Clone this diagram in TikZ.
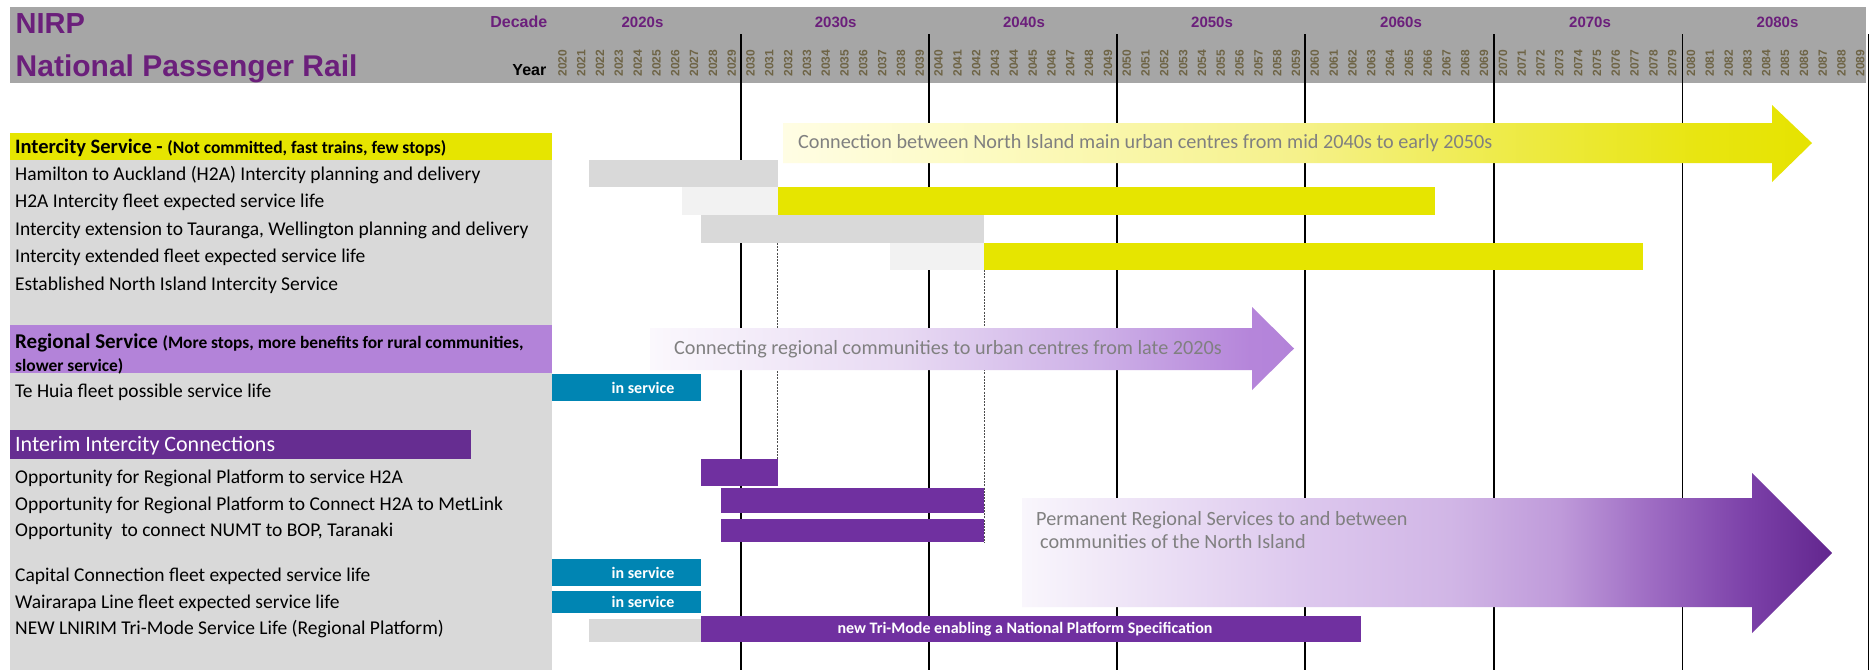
\documentclass[tikz,border=0pt]{standalone}
\usepackage{fontspec}
\setmainfont{Carlito}
\newfontfamily\arialfont{Liberation Sans}
\definecolor{hdrgray}{HTML}{A6A6A6}
\definecolor{panelgray}{HTML}{D9D9D9}
\definecolor{lightbar}{HTML}{F2F2F2}
\definecolor{intyellow}{RGB}{230,229,0}
\definecolor{regpurple}{HTML}{B383D9}
\definecolor{intpurple}{HTML}{662D91}
\definecolor{barpurple}{HTML}{7030A0}
\definecolor{svcblue}{HTML}{0085B3}
\definecolor{titlepurple}{HTML}{6B1F7B}
\definecolor{arrowgray}{HTML}{808080}
\definecolor{yeartext}{HTML}{6E6446}
% yellow arrow stops
\definecolor{yA}{HTML}{FFFDE4}
\definecolor{yB}{HTML}{FCFABF}
\definecolor{yC}{HTML}{F5F18A}
\definecolor{yD}{HTML}{EEEB4A}
\definecolor{yE}{HTML}{E8E510}
\definecolor{yF}{RGB}{230,227,0}
% regional arrow stops
\definecolor{rA}{HTML}{FBF8FD}
\definecolor{rB}{HTML}{E8DAF3}
\definecolor{rC}{HTML}{CDB0E7}
\definecolor{rD}{HTML}{B585DA}
\definecolor{rE}{HTML}{B383D9}
% permanent arrow stops
\definecolor{pA}{HTML}{F9F6FC}
\definecolor{pB}{HTML}{DDC8EE}
\definecolor{pC}{HTML}{D1B6E6}
\definecolor{pD}{HTML}{BF9ADA}
\definecolor{pE}{HTML}{9E6CC3}
\definecolor{pF}{HTML}{7B40A8}
\definecolor{pG}{HTML}{62268E}
\pgfdeclarehorizontalshading{yellowarrow}{100bp}{color(0bp)=(yA); color(25bp)=(yA); color(35.5bp)=(yB); color(50.1bp)=(yC); color(59.8bp)=(yD); color(69.6bp)=(yE); color(75bp)=(yF); color(100bp)=(yF)}
\pgfdeclarehorizontalshading{regionalarrow}{100bp}{color(0bp)=(rA); color(25bp)=(rA); color(44.4bp)=(rB); color(59.9bp)=(rC); color(71.6bp)=(rD); color(75bp)=(rE); color(100bp)=(rE)}
\pgfdeclarehorizontalshading{permarrow}{100bp}{color(0bp)=(pA); color(25bp)=(pA); color(42.2bp)=(pB); color(51.4bp)=(pC); color(58.2bp)=(pD); color(63.8bp)=(pE); color(69.9bp)=(pF); color(75bp)=(pG); color(100bp)=(pG)}
\begin{document}
\begin{tikzpicture}[x=1pt,y=-1pt,
  rowtext/.style={anchor=base west, inner sep=0pt, font=\fontsize{19.5}{21}\selectfont},
  bartext/.style={anchor=center, inner sep=0pt, text=white, font=\bfseries\fontsize{16}{18}\selectfont},
  arrowtext/.style={anchor=base west, inner sep=0pt, text=arrowgray, font=\fontsize{20.2}{22}\selectfont},
  decadeline/.style={line width=1.8pt, black},
  dashline/.style={line width=0.7pt, black!70, dash pattern=on 2pt off 1.2pt},
  decadelbl/.style={anchor=base, inner sep=0pt, text=titlepurple, font=\arialfont\bfseries\fontsize{15}{17}\selectfont},
  yearlbl/.style={anchor=center, inner sep=0pt, rotate=90, text=yeartext, font=\arialfont\bfseries\fontsize{12}{13}\selectfont}
]
\useasboundingbox (0,0) rectangle (1870,670);
\fill[white] (0,0) rectangle (1870,670);

% header band
\fill[hdrgray] (9.5,7.3) rectangle (1866,82.7);
\node[anchor=base west, inner sep=0pt, text=titlepurple, font=\arialfont\bfseries\fontsize{29}{31}\selectfont] (nirp) at (15.5,33) {NIRP};
\node[anchor=base west, inner sep=0pt, text=titlepurple, font=\arialfont\bfseries\fontsize{30}{32}\selectfont] (npr) at (15.5,76) {National Passenger Rail};
\node[anchor=base east, inner sep=0pt, text=titlepurple, font=\arialfont\bfseries\fontsize{16}{18}\selectfont] (decade) at (547.5,27.5) {Decade};
\node[anchor=base east, inner sep=0pt, text=black, font=\arialfont\bfseries\fontsize{16}{18}\selectfont] (year) at (546.5,75.5) {Year};
\node[decadelbl] (d2020) at (642.5,27.5) {2020s};
\node[decadelbl] (d2030) at (835.7,27.5) {2030s};
\node[decadelbl] (d2040) at (1024,27.5) {2040s};
\node[decadelbl] (d2050) at (1212,27.5) {2050s};
\node[decadelbl] (d2060) at (1401,27.5) {2060s};
\node[decadelbl] (d2070) at (1590,27.5) {2070s};
\node[decadelbl] (d2080) at (1777.5,27.5) {2080s};
\foreach \i in {0,...,69} {
  \pgfmathtruncatemacro{\yr}{2020+\i}
  \node[yearlbl] (y\yr) at ({553+(\i+0.5)*18.81},63) {\yr};
}

% decade lines
\foreach \x in {741,929,1117,1305,1494,1682.5} {
  \draw[decadeline] (\x,34) -- (\x,670);
}
\draw[line width=1.2pt] (1868.5,34) -- (1868.5,670);

% dashed milestone lines
\draw[dashline] (777.5,243) -- (777.5,486);
\draw[dashline] (984,270) -- (984,543);

% left panel
\fill[panelgray] (9.5,133) rectangle (552,670);
\fill[intyellow] (9.5,133) rectangle (552,160);
\fill[regpurple] (9.5,325) rectangle (552,373);
\fill[intpurple] (9.5,430) rectangle (471,459);

\node[anchor=base west, inner sep=0pt] (hint) at (15,153) {\bfseries\fontsize{20.5}{22}\selectfont Intercity Service - \fontsize{17.5}{19}\selectfont(Not committed, fast trains, few stops)};
\node[rowtext] (r1) at (15,180) {Hamilton to Auckland (H2A) Intercity planning and delivery};
\node[rowtext] (r2) at (15,207) {H2A Intercity fleet expected service life};
\node[rowtext] (r3) at (15,235) {Intercity extension to Tauranga, Wellington planning and delivery};
\node[rowtext] (r4) at (15,262) {Intercity extended fleet expected service life};
\node[rowtext] (r5) at (15,290) {Established North Island Intercity Service};

\node[anchor=base west, inner sep=0pt] (hreg) at (15,348) {\bfseries\fontsize{21}{22}\selectfont Regional Service \fontsize{17.4}{19}\selectfont(More stops, more benefits for rural communities,};
\node[anchor=base west, inner sep=0pt, font=\bfseries\fontsize{17.4}{19}\selectfont] (hreg2) at (15,371) {slower service)};
\node[rowtext] (r6) at (15,397) {Te Huia fleet possible service life};

\node[anchor=base west, inner sep=0pt, text=white, font=\fontsize{22}{24}\selectfont] (hint2) at (15,451) {Interim Intercity Connections};
\node[rowtext] (r7) at (15,483) {Opportunity for Regional Platform to service H2A};
\node[rowtext] (r8) at (15,510) {Opportunity for Regional Platform to Connect H2A to MetLink};
\node[rowtext] (r9) at (15,536) {Opportunity\ \ to connect NUMT to BOP, Taranaki};
\node[rowtext] (r10) at (15,581) {Capital Connection fleet expected service life};
\node[rowtext] (r11) at (15,608) {Wairarapa Line fleet expected service life};
\node[rowtext] (r12) at (15,634) {NEW LNIRIM Tri-Mode Service Life (Regional Platform)};

% intercity bars
\fill[panelgray] (589,160) rectangle (777.5,187);
\fill[lightbar] (682,187) rectangle (777.5,215);
\fill[intyellow] (777.5,187) rectangle (1435,215);
\fill[panelgray] (701,215) rectangle (984,243);
\fill[lightbar] (890,243) rectangle (984,270);
\fill[intyellow] (984,243) rectangle (1643,270);

% intercity arrow
\shade[shading=yellowarrow] (783,123) -- (1772,123) -- (1772,105) -- (1812,143) -- (1772,182) -- (1772,163) -- (783,163) -- cycle;
\node[arrowtext] (ta1) at (798,148) {Connection between North Island main urban centres from mid 2040s to early 2050s};

% regional arrow
\shade[shading=regionalarrow] (650,328) -- (1252,328) -- (1252,307) -- (1294,348.5) -- (1252,390) -- (1252,370) -- (650,370) -- cycle;
\node[arrowtext] (ta2) at (674,354) {Connecting regional communities to urban centres from late 2020s};

% Te Huia
\fill[svcblue] (552,374) rectangle (701,401);
\node[bartext] (s1) at (643,387.5) {in service};

% interim bars
\fill[barpurple] (701,459) rectangle (777.5,486);
\fill[barpurple] (721,488) rectangle (984,513);
\fill[barpurple] (721,519) rectangle (984,542);

% permanent arrow
\shade[shading=permarrow] (1022,498) -- (1752,498) -- (1752,473) -- (1832,553) -- (1752,633) -- (1752,607) -- (1022,607) -- cycle;
\node[arrowtext] (ta3) at (1036,525) {Permanent Regional Services to and between};
\node[arrowtext] (ta4) at (1040,548) {communities of the North Island};

% capital / wairarapa
\fill[svcblue] (552,559) rectangle (701,586);
\node[bartext] (s2) at (643,572.5) {in service};
\fill[svcblue] (552,591) rectangle (701,613);
\node[bartext] (s3) at (643,602) {in service};

% new tri-mode
\fill[panelgray] (589,619) rectangle (701,642);
\fill[barpurple] (701,616) rectangle (1361,642);
\node[bartext] (s4) at (1025,629) {new Tri-Mode enabling a National Platform Specification};
\end{tikzpicture}
\end{document}
